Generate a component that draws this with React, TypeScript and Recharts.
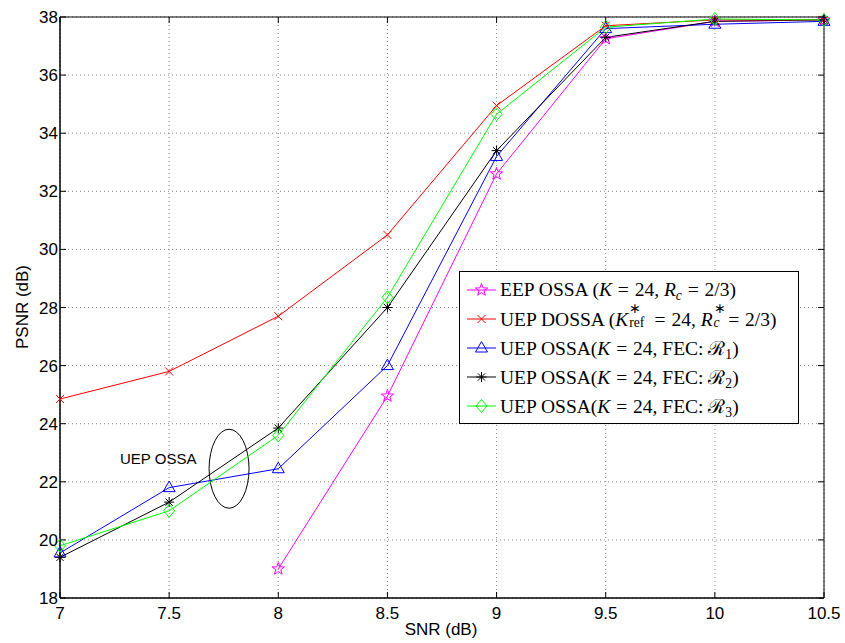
import React from "react";
import {
  LineChart,
  Line,
  XAxis,
  YAxis,
  CartesianGrid,
  ReferenceArea,
  ReferenceDot,
} from "recharts";

const SNR = [7, 7.5, 8, 8.5, 9, 9.5, 10, 10.5];
const EEP_OSSA = [null, null, 19.0, 24.95, 32.6, 37.25, 37.85, 37.9];
const UEP_DOSSA = [24.85, 25.8, 27.7, 30.5, 34.95, 37.7, 37.9, 37.9];
const UEP_FEC1 = [19.55, 21.8, 22.45, 26.0, 33.2, 37.6, 37.75, 37.85];
const UEP_FEC2 = [19.4, 21.3, 23.85, 28.0, 33.4, 37.3, 37.85, 37.9];
const UEP_FEC3 = [19.8, 21.0, 23.6, 28.35, 34.65, 37.65, 37.93, 37.9];

const X_TICKS = [7, 7.5, 8, 8.5, 9, 9.5, 10, 10.5];
const Y_TICKS = [18, 20, 22, 24, 26, 28, 30, 32, 34, 36, 38];

const DATA = SNR.map((snr, i) => ({
  snr,
  eep: EEP_OSSA[i],
  dossa: UEP_DOSSA[i],
  fec1: UEP_FEC1[i],
  fec2: UEP_FEC2[i],
  fec3: UEP_FEC3[i],
}));

const W = 845;
const H = 643;
const TOP = 17;
const BOTTOM = 598;
const LEFT = 60;
const RIGHT = 824;
const FONT = "'Liberation Sans', Arial, sans-serif";
const SERIF = "'Liberation Serif', 'Times New Roman', serif";

// markers
const star = (cx: number, cy: number, color: string, key?: any) => {
  const pts: string[] = [];
  for (let i = 0; i < 10; i++) {
    const r = i % 2 === 0 ? 6.5 : 2.6;
    const a = -Math.PI / 2 + (i * Math.PI) / 5;
    pts.push(`${cx + r * Math.cos(a)},${cy + r * Math.sin(a)}`);
  }
  return <polygon key={key} points={pts.join(" ")} fill="none" stroke={color} strokeWidth={1} />;
};
const cross = (cx: number, cy: number, color: string, key?: any) => (
  <g key={key} stroke={color} strokeWidth={1}>
    <line x1={cx - 4} y1={cy - 4} x2={cx + 4} y2={cy + 4} />
    <line x1={cx - 4} y1={cy + 4} x2={cx + 4} y2={cy - 4} />
  </g>
);
const triangle = (cx: number, cy: number, color: string, key?: any) => (
  <polygon
    key={key}
    points={`${cx},${cy - 6.5} ${cx + 6},${cy + 4} ${cx - 6},${cy + 4}`}
    fill="none"
    stroke={color}
    strokeWidth={1}
  />
);
const asterisk = (cx: number, cy: number, color: string, key?: any) => (
  <g key={key} stroke={color} strokeWidth={1}>
    <line x1={cx - 5} y1={cy} x2={cx + 5} y2={cy} />
    <line x1={cx} y1={cy - 5} x2={cx} y2={cy + 5} />
    <line x1={cx - 3.6} y1={cy - 3.6} x2={cx + 3.6} y2={cy + 3.6} />
    <line x1={cx - 3.6} y1={cy + 3.6} x2={cx + 3.6} y2={cy - 3.6} />
  </g>
);
const diamond = (cx: number, cy: number, color: string, key?: any) => (
  <polygon
    key={key}
    points={`${cx},${cy - 6.5} ${cx + 5.5},${cy} ${cx},${cy + 6.5} ${cx - 5.5},${cy}`}
    fill="none"
    stroke={color}
    strokeWidth={1}
  />
);

const dotOf = (marker: any, color: string) => (props: any) => {
  const { cx, cy, index } = props;
  if (cx == null || cy == null || props.value == null) return <g key={`d${index}`} />;
  return marker(cx, cy, color, `d${index}`);
};

const XTick = (props: any) => {
  const { x, payload } = props;
  return (
    <g>
      <line x1={x} x2={x} y1={BOTTOM} y2={BOTTOM - 6} stroke="#000" />
      <line x1={x} x2={x} y1={TOP} y2={TOP + 6} stroke="#000" />
      <text x={x} y={619} textAnchor="middle" fontSize={17} fontFamily={FONT} fill="#000">
        {payload.value}
      </text>
    </g>
  );
};

const YTick = (props: any) => {
  const { y, payload } = props;
  return (
    <g>
      <line x1={LEFT} x2={LEFT + 6} y1={y} y2={y} stroke="#000" />
      <line x1={RIGHT} x2={RIGHT - 6} y1={y} y2={y} stroke="#000" />
      <text x={LEFT - 2} y={y + 6} textAnchor="end" fontSize={17} fontFamily={FONT} fill="#000">
        {payload.value}
      </text>
    </g>
  );
};

const Ellipse = (props: any) => {
  const { x, y, width, height } = props;
  return (
    <ellipse
      cx={x + width / 2}
      cy={y + height / 2}
      rx={width / 2}
      ry={height / 2}
      fill="none"
      stroke="#000"
      strokeWidth={1}
    />
  );
};

const Sub = ({ children }: any) => (
  <span style={{ fontSize: "0.7em", position: "relative", top: "0.3em" }}>{children}</span>
);

// superscript and subscript stacked over each other
const SupSub = ({ sup, sub, w }: any) => (
  <span style={{ display: "inline-block", position: "relative", width: w, height: "1em" }}>
    <span style={{ position: "absolute", left: 1, top: "-0.3em", fontSize: "0.7em", lineHeight: 1 }}>{sup}</span>
    <span style={{ position: "absolute", left: 1, top: "0.72em", fontSize: "0.7em", lineHeight: 1 }}>{sub}</span>
  </span>
);

const Eq = () => <span style={{ margin: "0 0.3em" }}>=</span>;

const LEGEND = [
  {
    color: "#FF00FF",
    marker: star,
    label: (
      <>
        EEP OSSA (<i>K</i>
        <Eq />
        24, <i>R</i>
        <Sub>
          <i>c</i>
        </Sub>
        <Eq />
        2/3)
      </>
    ),
  },
  {
    color: "#FF0000",
    marker: cross,
    label: (
      <>
        UEP DOSSA (<i>K</i>
        <SupSub sup="∗" sub="ref" w="1.05em" />
        <Eq />
        24, <i>R</i>
        <SupSub sup="∗" sub={<i>c</i>} w="0.5em" />
        <Eq />
        2/3)
      </>
    ),
  },
  {
    color: "#0000FF",
    marker: triangle,
    label: (
      <>
        UEP OSSA(<i>K</i>
        <Eq />
        24, FEC: ℛ<Sub>1</Sub>)
      </>
    ),
  },
  {
    color: "#000000",
    marker: asterisk,
    label: (
      <>
        UEP OSSA(<i>K</i>
        <Eq />
        24, FEC: ℛ<Sub>2</Sub>)
      </>
    ),
  },
  {
    color: "#00FF00",
    marker: diamond,
    label: (
      <>
        UEP OSSA(<i>K</i>
        <Eq />
        24, FEC: ℛ<Sub>3</Sub>)
      </>
    ),
  },
];

const App = () => {
  return (
    <div style={{ position: "absolute", left: 0, top: 0, width: W, height: H, background: "#fff" }}>
      <LineChart
        width={W}
        height={H}
        data={DATA}
        margin={{ top: TOP, right: W - RIGHT, left: 0, bottom: 0 }}
      >
        <CartesianGrid stroke="#888" strokeDasharray="1 3" />
        <XAxis
          dataKey="snr"
          type="number"
          domain={[7, 10.5]}
          ticks={X_TICKS}
          height={H - BOTTOM}
          axisLine={{ stroke: "#000" }}
          tickLine={false}
          tick={XTick}
          interval={0}
        />
        <YAxis
          type="number"
          domain={[18, 38]}
          ticks={Y_TICKS}
          width={LEFT}
          axisLine={{ stroke: "#000" }}
          tickLine={false}
          tick={YTick}
          interval={0}
        />
        <ReferenceArea x1={7} x2={10.5} y1={18} y2={38} fill="none" stroke="#000" strokeWidth={1} />
        <ReferenceArea x1={7.683} x2={7.866} y1={21.09} y2={23.81} shape={Ellipse} />
        <ReferenceDot
          x={7.45}
          y={22.78}
          r={0}
          stroke="none"
          label={{ value: "UEP OSSA", position: "center", fontSize: 15, fill: "#000", fontFamily: FONT }}
        />
        <Line dataKey="eep" stroke="#FF00FF" strokeWidth={1} dot={dotOf(star, "#FF00FF")} isAnimationActive={false} />
        <Line dataKey="fec1" stroke="#0000FF" strokeWidth={1} dot={dotOf(triangle, "#0000FF")} isAnimationActive={false} />
        <Line dataKey="fec2" stroke="#000000" strokeWidth={1} dot={dotOf(asterisk, "#000000")} isAnimationActive={false} />
        <Line dataKey="dossa" stroke="#FF0000" strokeWidth={1} dot={dotOf(cross, "#FF0000")} isAnimationActive={false} />
        <Line dataKey="fec3" stroke="#00FF00" strokeWidth={1} dot={dotOf(diamond, "#00FF00")} isAnimationActive={false} />
      </LineChart>
      <div
        style={{
          position: "absolute",
          left: 441,
          top: 640,
          transform: "translate(-50%, -100%)",
          fontFamily: FONT,
          fontSize: 17,
          whiteSpace: "nowrap",
        }}
      >
        SNR (dB)
      </div>
      <div
        style={{
          position: "absolute",
          left: 23,
          top: 307,
          transform: "translate(-50%, -50%) rotate(-90deg)",
          fontFamily: FONT,
          fontSize: 17,
          whiteSpace: "nowrap",
        }}
      >
        PSNR (dB)
      </div>
      <div
        style={{
          position: "absolute",
          left: 459,
          top: 271,
          width: 340,
          height: 153,
          border: "1px solid #000",
          background: "#fff",
          fontFamily: SERIF,
          fontSize: 19.5,
          boxSizing: "border-box",
          paddingTop: 3,
        }}
      >
        {LEGEND.map((e, i) => (
          <div key={i} style={{ display: "flex", alignItems: "center", height: 29, whiteSpace: "nowrap" }}>
            <svg width={38} height={20} style={{ flex: "none" }}>
              <line x1={7} x2={36} y1={10} y2={10} stroke={e.color} strokeWidth={1} />
              {e.marker(21.5, 10, e.color)}
            </svg>
            <span style={{ marginLeft: 2 }}>{e.label}</span>
          </div>
        ))}
      </div>
    </div>
  );
};

export default App;
